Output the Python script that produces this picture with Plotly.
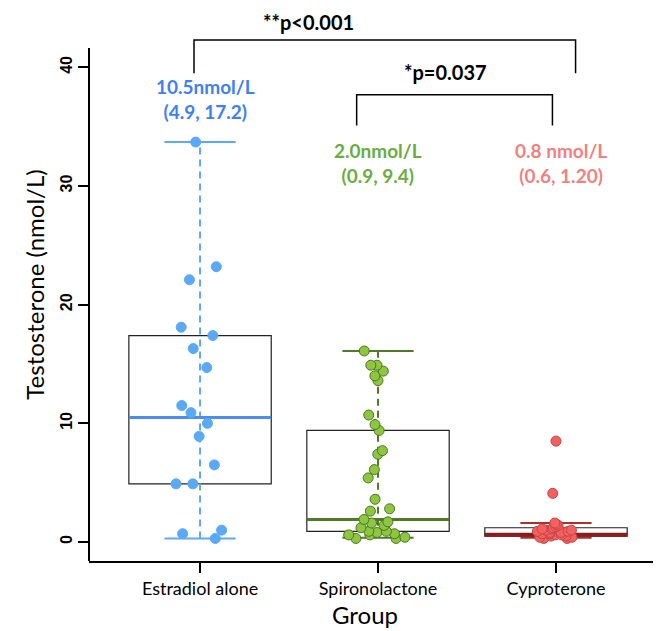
import plotly.graph_objects as go

# ---------------------------------------------------------
# data
# ---------------------------------------------------------
groups = ["Estradiol alone", "Spironolactone", "Cyproterone"]

estradiol = [33.7, 23.2, 22.1, 18.1, 17.4, 16.3, 14.7, 11.5, 10.9, 10.0,
             8.9, 6.5, 4.9, 4.9, 1.0, 0.7, 0.3]
spironolactone = [16.1, 14.9, 14.9, 14.4, 14.0, 13.6, 10.7, 9.9, 9.4, 7.7,
                  7.4, 6.1, 5.4, 3.6, 2.8, 2.6, 1.9, 1.7, 1.6, 1.4,
                  1.2, 0.9, 0.9, 0.8, 0.7, 0.6, 0.6, 0.4, 0.3, 0.3]
cyproterone = [8.5, 4.1, 1.6, 1.5, 1.4, 1.3, 1.2, 1.1, 1.1, 1.0,
               1.0, 0.9, 0.9, 0.8, 0.8, 0.7, 0.7, 0.6, 0.6, 0.5,
               0.5, 0.4, 0.4, 0.3, 0.3]
values = [estradiol, spironolactone, cyproterone]

# box statistics (as drawn)
lower = [0.3, 0.35, 0.35]
q1 = [4.9, 0.9, 0.5]
median = [10.5, 1.9, 0.62]
q3 = [17.4, 9.4, 1.2]
upper = [33.7, 16.1, 1.6]

median_text = ["10.5nmol/L", "2.0nmol/L", "0.8 nmol/L"]
iqr_text = ["(4.9, 17.2)", "(0.9, 9.4)", "(0.6, 1.20)"]

y_ticks = [0, 10, 20, 30, 40]

# ---------------------------------------------------------
# styling
# ---------------------------------------------------------
point_fill = ["#5aa9f6", "#8dc63f", "#f45f5f"]
point_edge = ["#5aa9f6", "#4e7526", "#c64545"]
whisker_col = ["#5ea9f4", "#4f7a28", "#a8302f"]
median_col = ["#4a8df2", "#4f7a28", "#8a1c1c"]
median_w = [3, 3, 4]
label_col = ["#3e7ff3", "#6aad3e", "#f47f7f"]
jitter = [0.55, 0.65, 0.4]

Y_MIN, Y_MAX = -1.6, 45.0
SPINE_TOP = 41.63
BOX_HALF, CAP_HALF = 0.4, 0.2
FONT = "Lato, 'Open Sans', sans-serif"

fig = go.Figure()
shapes = []

for i in range(len(groups)):
    # box, whisker, caps, median (kept under the points)
    shapes.append(dict(type="rect", xref="x", yref="y", layer="below",
                       x0=i - BOX_HALF, x1=i + BOX_HALF, y0=q1[i], y1=q3[i],
                       line=dict(color="#222222", width=1.2), fillcolor="white"))
    shapes.append(dict(type="line", xref="x", yref="y", layer="below",
                       x0=i, x1=i, y0=lower[i], y1=upper[i],
                       line=dict(color=whisker_col[i], width=2, dash="7px,5px")))
    for v in (lower[i], upper[i]):
        shapes.append(dict(type="line", xref="x", yref="y", layer="below",
                           x0=i - CAP_HALF, x1=i + CAP_HALF, y0=v, y1=v,
                           line=dict(color=whisker_col[i], width=2)))
    shapes.append(dict(type="line", xref="x", yref="y", layer="below",
                       x0=i - BOX_HALF, x1=i + BOX_HALF, y0=median[i], y1=median[i],
                       line=dict(color=median_col[i], width=median_w[i])))

    # jittered points
    fig.add_trace(go.Box(
        x0=i, y=values[i], name=groups[i],
        boxpoints="all", jitter=jitter[i], pointpos=0, width=0.6,
        fillcolor="rgba(0,0,0,0)", line=dict(width=0, color=point_fill[i]),
        whiskerwidth=0,
        marker=dict(size=10, color=point_fill[i],
                    line=dict(width=1, color=point_edge[i])),
        hoverinfo="y", showlegend=False,
    ))

    fig.add_annotation(x=i + (0.03 if i != 1 else 0), y=37.3 if i == 0 else 31.9,
                       text=f"<b>{median_text[i]}<br>{iqr_text[i]}</b>",
                       showarrow=False, font=dict(family=FONT, size=19, color=label_col[i]))

# left spine (stops at the top tick like base R)
shapes.append(dict(type="line", xref="paper", yref="y", x0=0, x1=0,
                   y0=Y_MIN, y1=SPINE_TOP, line=dict(color="black", width=2)))

# significance brackets
for xa, xb, top, leg in [(-0.034, 2.11, 42.3, 39.5), (0.88, 1.98, 37.7, 35.1)]:
    shapes.append(dict(type="path", xref="x", yref="y",
                       path=f"M {xa} {leg} L {xa} {top} L {xb} {top} L {xb} {leg}",
                       line=dict(color="black", width=1.5)))
fig.add_annotation(x=0.61, y=43.8, yanchor="middle", text="<b>**p<0.001</b>",
                   showarrow=False, font=dict(family=FONT, size=20, color="black"))
fig.add_annotation(x=1.38, y=39.6, yanchor="middle", text="<b>*p=0.037</b>",
                   showarrow=False, font=dict(family=FONT, size=20, color="black"))

# x title sits a little left of the plot centre in the original
fig.add_annotation(x=0.924, y=-0.127, xref="x", yref="paper", yanchor="bottom",
                   text="Group", showarrow=False,
                   font=dict(family=FONT, size=24, color="black"))

fig.update_layout(
    width=661, height=631,
    margin=dict(l=81, r=0, t=0, b=78),
    plot_bgcolor="white", paper_bgcolor="white",
    shapes=shapes,
    boxmode="overlay",
    xaxis=dict(
        range=[-0.624, 2.635], tickvals=[0, 1, 2], ticktext=groups,
        showline=True, linecolor="black", linewidth=2,
        ticks="outside", ticklen=10, tickwidth=1.5, tickcolor="black",
        tickfont=dict(family=FONT, size=18, color="black"),
        showgrid=False, zeroline=False, automargin=False,
    ),
    yaxis=dict(
        range=[Y_MIN, Y_MAX], tickvals=y_ticks, tickangle=-90,
        showline=False, ticks="outside", ticklen=10, tickwidth=1.5, tickcolor="black",
        tickfont=dict(family="Liberation Sans, Arial, sans-serif", size=16,
                      color="black", weight="bold"),
        title=dict(text="Testosterone (nmol/L)",
                   font=dict(family=FONT, size=24, color="black"), standoff=6),
        showgrid=False, zeroline=False, automargin=False,
    ),
)

fig.write_html("out.html")
